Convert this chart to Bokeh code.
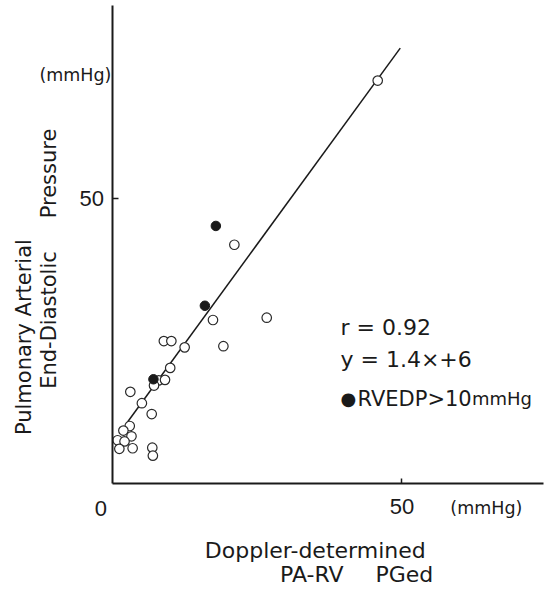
import math
from bokeh.plotting import figure
from bokeh.models import Range1d, FixedTicker, Label, LinearAxis
from bokeh.embed import file_html
from bokeh.resources import INLINE

# ---- data ----
open_x = [45.8, 21.0, 17.3, 26.6, 8.8, 10.1, 12.4, 19.1, 9.9, 7.9, 9.0, 7.1,
          3.0, 5.0, 6.7, 2.9, 1.8, 3.2, 0.8, 2.0, 1.1, 3.4, 6.8, 6.9]
open_y = [70.6, 41.8, 28.6, 29.0, 24.9, 24.9, 23.8, 24.0, 20.2, 18.0, 18.1, 17.1,
          16.0, 14.0, 12.1, 10.0, 9.2, 8.2, 7.5, 7.3, 6.0, 6.1, 6.2, 4.8]
filled_x = [17.8, 15.9, 7.0]
filled_y = [45.1, 31.1, 18.2]
fit_x = [2.3, 49.7]
fit_y = [10.4, 76.3]
x_ticks = [50]
y_ticks = [50]
x_axis_end = 74.5
y_axis_end = 83.8

INK = "#1a1a1a"
SANS = "DejaVu Sans"
NUM = "Liberation Sans"

p = figure(width=552, height=589,
           x_range=Range1d(-19.46, 76.04), y_range=Range1d(-18.68, 84.65),
           output_backend="svg", toolbar_location=None,
           x_axis_location=None, y_axis_location=None,
           min_border_left=0, min_border_right=0,
           min_border_top=0, min_border_bottom=0)
p.outline_line_color = None
p.grid.visible = False
p.background_fill_color = "white"
p.border_fill_color = "white"

xax = LinearAxis(fixed_location=0, bounds=(0, x_axis_end))
yax = LinearAxis(fixed_location=0, bounds=(0, y_axis_end))
for ax, ticks, tin in ((xax, x_ticks, 5), (yax, y_ticks, 6)):
    ax.ticker = FixedTicker(ticks=ticks)
    ax.major_tick_in = tin
    ax.major_tick_out = 0
    ax.minor_tick_line_color = None
    ax.axis_line_width = 2
    ax.axis_line_color = INK
    ax.major_tick_line_width = 1.5
    ax.major_tick_line_color = INK
    ax.major_label_text_font = NUM
    ax.major_label_text_font_size = "22px"
    ax.major_label_text_color = INK
xax.major_label_standoff = 16
yax.major_label_standoff = 9
p.add_layout(xax, "below")
p.add_layout(yax, "left")

# regression line
p.line(fit_x, fit_y, line_color=INK, line_width=1.5)
# points
p.scatter(open_x, open_y, marker="circle", size=9.5, fill_color="white",
          line_color="#2a2a2a", line_width=1.2)
p.scatter(filled_x, filled_y, marker="circle", size=9.5, fill_color=INK,
          line_color=INK, line_width=1.0)


def lab(x, y, text, font=SANS, size="21px", align="center", angle=0.0,
        baseline="middle"):
    p.add_layout(Label(x=x, y=y, text=text, text_font=font, text_font_size=size,
                       text_align=align, text_baseline=baseline, angle=angle,
                       text_color=INK))


# unit labels and origin
lab(-6.5, 71.6, "(mmHg)", size="17.5px")
lab(64.6, -4.4, "(mmHg)", size="17.5px")
lab(-2.1, -4.4, "0", font=NUM, size="22px")

# y-axis title (rotated)
lab(-15.4, 25.6, "Pulmonary Arterial", angle=math.pi / 2)
lab(-11.1, 28.6, "End-Diastolic", angle=math.pi / 2)
lab(-11.1, 54.3, "Pressure", angle=math.pi / 2)

# x-axis title
lab(35.0, -11.9, "Doppler-determined", size="22px")
lab(34.4, -16.0, "PA-RV", size="22px")
lab(50.4, -16.0, "PGed", size="22px")

# statistics
lab(39.36, 27.3, "r = 0.92", size="22px", align="left")
lab(39.36, 21.7, "y = 1.4×+6", size="22px", align="left")
lab(39.36, 14.74, "●", size="18px", align="left", baseline="alphabetic")
lab(42.3, 14.74, "RVEDP>10", size="21px", align="left", baseline="alphabetic")
lab(62.1, 14.74, "mmHg", size="18px", align="left", baseline="alphabetic")

open("out.html", "w").write(file_html(p, INLINE))
